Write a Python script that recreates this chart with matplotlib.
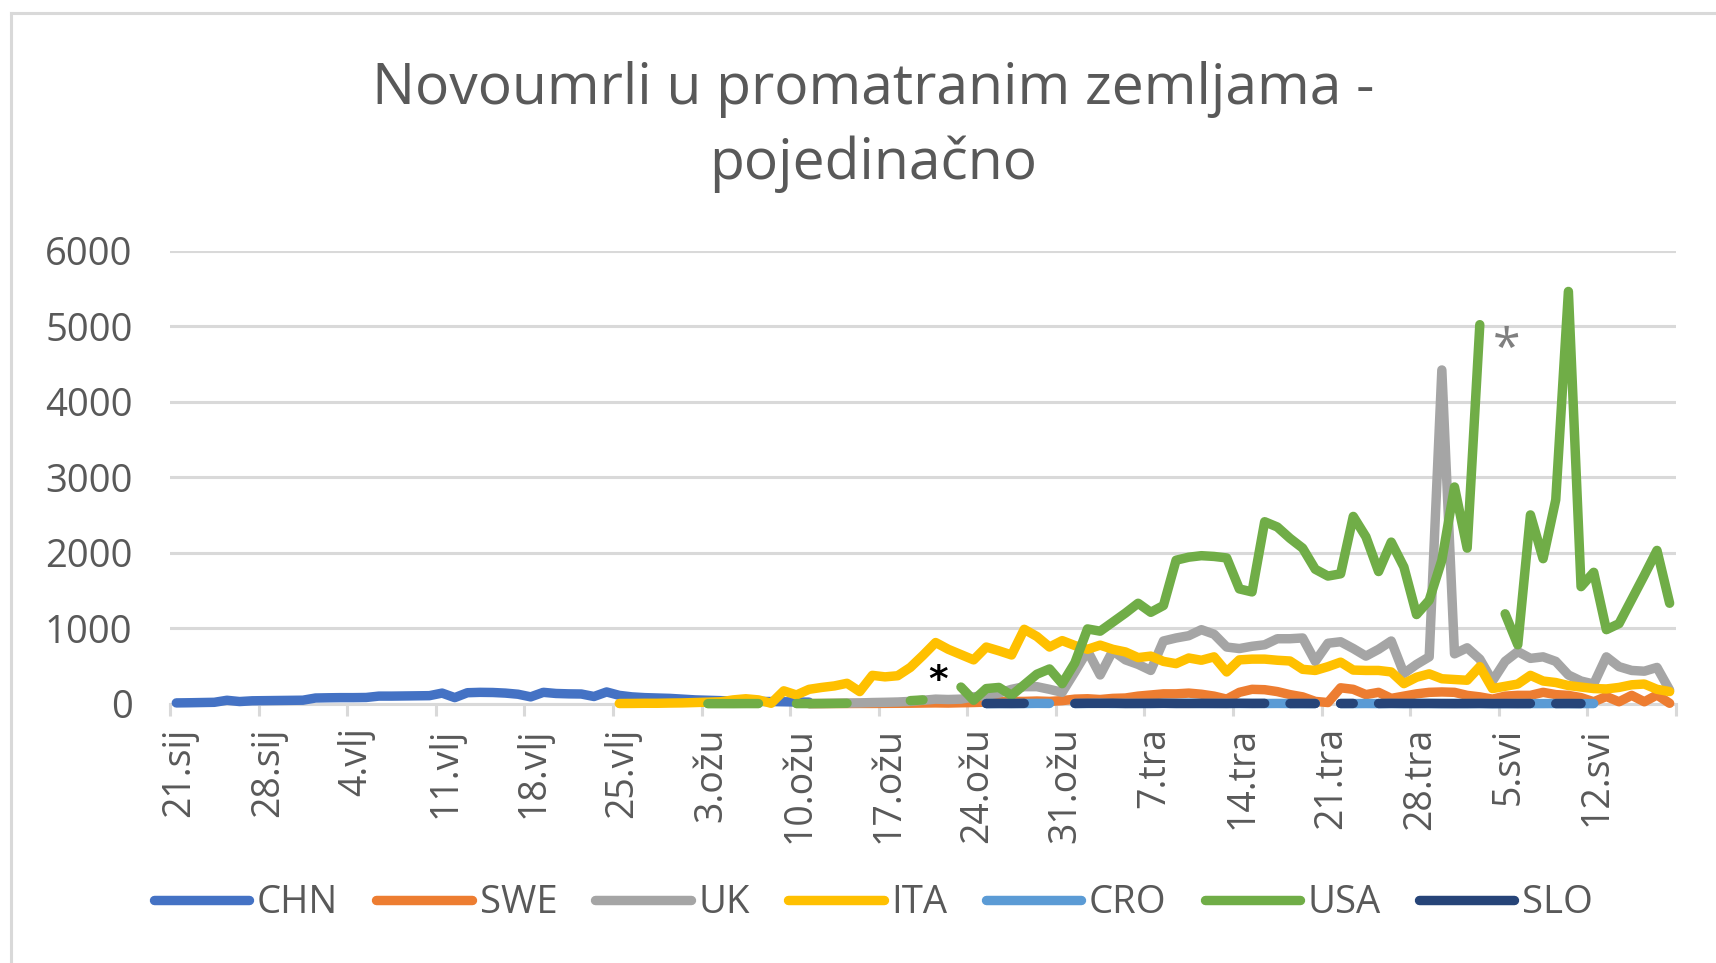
import matplotlib.pyplot as plt
from matplotlib.lines import Line2D
import numpy as np
import pandas as pd

plt.rcParams['font.family'] = ['Open Sans', 'DejaVu Sans']

TEXT = '#595959'
GRID = '#D9D9D9'

# one category per day, 21.1. - 18.5.2020.
days = pd.date_range('2020-01-21', '2020-05-18', freq='D')
tick_labels = ['21.sij', '28.sij', '4.vlj', '11.vlj', '18.vlj', '25.vlj', '3.ožu', '10.ožu', '17.ožu',
               '24.ožu', '31.ožu', '7.tra', '14.tra', '21.tra', '28.tra', '5.svi', '12.svi']

countries = ['CHN', 'SWE', 'UK', 'ITA', 'CRO', 'USA', 'SLO']
colors = ['#4472C4', '#ED7D31', '#A5A5A5', '#FFC000', '#5B9BD5', '#70AD47', '#264478']
first_day = ['2020-01-21', '2020-03-11', '2020-03-11', '2020-02-25', '2020-03-25', '2020-03-03', '2020-03-25']

chn = [10, 12, 15, 18, 45, 28, 38, 40, 42, 44, 46, 75, 78, 80, 80, 82, 100, 100, 102, 104, 106,
       140, 80, 145, 150, 148, 140, 125, 90, 150, 135, 130, 128, 95, 155, 110, 90, 80, 75, 70,
       60, 50, 45, 40, 35, 32, 30, 28, 25, 22, 20]
swe = [1, 1, 2, 2, 3, 3, 4, 5, 6, 8, 10, 8, 12, 15, 20, 25, 30, 30, 35, 30,
       40, 60, 65, 55, 70, 75, 100, 115, 130, 130, 140, 125, 100, 60, 150, 190, 185, 160, 120, 90,
       30, 15, 210, 190, 120, 150, 70, 100, 130, 150, 155, 150, 110, 90, 60, 100, 110, 110, 150, 120,
       110, 80, 25, 95, 25, 110, 25, 115, 5]
uk = [0, 2, 5, 8, 10, 15, 18, 22, 30, 45, 60, 55, 60, 90, 110, 140, 190, 225, 225, 190,
      150, 420, 700, 380, 700, 580, 520, 440, 830, 870, 900, 980, 920, 750, 730, 760, 780, 860, 860, 870,
      560, 800, 820, 730, 630, 720, 830, 400, 520, 620, 4420, 660, 740, 590, 300, 560, 690, 600, 620, 560,
      380, 300, 260, 620, 490, 440, 430, 480, 180]
ita = [2, 3, 5, 5, 8, 10, 15, 20, 25, 50, 65, 50, 5, 170, 115, 190, 215, 235, 270, 160,
       375, 355, 370, 480, 640, 810, 720, 650, 580, 750, 700, 645, 985, 890, 750, 835, 770, 720, 775, 720,
       685, 610, 630, 560, 530, 605, 575, 620, 420, 580, 590, 590, 575, 565, 455, 440, 490, 550, 445, 440,
       440, 420, 265, 350, 395, 330, 320, 310, 490, 200, 230, 260, 375, 300, 280, 240, 220, 200, 195, 215,
       250, 260, 190, 160]
cro = [1, 2, 3, 2, 4, 3, None, 2, 3, 5, 2, 4, 3, 2, 4, 3, 5, 2, 3, 4,
       2, 3, 2, 3, 2, 1, 2, None, 2, 1, 2, 1, 2, 1, 3, 2, 1, 2, 1, 2,
       1, 1, 2, 1, 1, 2, 1, 1, 1]
usa = [0, 0, 0, 1, 1, None, None, 1, 1, 2, 3, 5, None, None, None, None, 40, 50, None, None,
       220, 45, 200, 215, 110, 250, 390, 460, 265, 540, 990, 960, 1080, 1200, 1330, 1210, 1300, 1900, 1940, 1960,
       1950, 1930, 1520, 1480, 2410, 2340, 2190, 2060, 1780, 1690, 1720, 2480, 2210, 1750, 2140, 1810, 1180, 1370, 1900, 2870,
       2060, 5020, None, 1190, 780, 2500, 1920, 2700, 5460, 1550, 1740, 980, 1060, 1380, 1700, 2030, 1330]
slo = [2, 3, 2, 4, None, None, None, 3, 5, 4, 6, 2, 3, 4, 5, 3, 2, 4, 3, 2,
       5, 3, 4, None, 2, 3, 2, None, 2, 3, None, 2, 4, 3, 2, 3, 2, 1, 2, 3,
       1, 2, 1, 2, None, 1, 2, 1]

values = [chn, swe, uk, ita, cro, usa, slo]

fig = plt.figure(figsize=(17.16, 9.63), dpi=100)
ax = fig.add_axes([0.09907, 0.2693, 0.8776, 0.4704])

x = np.arange(len(days)) + 0.5
handles = []
for k, (name, col, d0, vals) in enumerate(zip(countries, colors, first_day, values)):
    s = pd.Series(vals, index=pd.date_range(d0, periods=len(vals), freq='D'), dtype=float)
    s = s.reindex(days)
    ln, = ax.plot(x, s.values, color=col, lw=6.8, solid_capstyle='round',
                  solid_joinstyle='round', label=name, zorder=3 + k, clip_on=False)
    handles.append(ln)

ax.set_xlim(0, len(days))
ax.set_ylim(0, 6000)
ax.set_yticks(np.arange(0, 6001, 1000))
ax.yaxis.grid(True, color=GRID, lw=2.2)
ax.set_axisbelow(True)
for sp in ['top', 'right', 'left']:
    ax.spines[sp].set_visible(False)
ax.spines['bottom'].set_color(GRID)
ax.spines['bottom'].set_linewidth(2.2)

ax.set_xticks(np.arange(0, len(days) + 1, 7))
ax.set_xticklabels([])
ax.tick_params(axis='x', which='major', length=8.6, width=2.2, color=GRID)
ax.set_xticks(np.arange(0, len(days), 7) + 0.75, minor=True)
ax.set_xticklabels(tick_labels, minor=True, rotation=90, fontsize=27, color=TEXT)
ax.tick_params(axis='x', which='minor', length=0, pad=17)
ax.tick_params(axis='y', length=0, pad=27, labelsize=27.5, labelcolor=TEXT)

# zvjezdice
ax.text(60.7, 170, '*', fontsize=27, fontweight='bold', color='black',
        ha='center', va='baseline', family='DejaVu Sans')
ax.text(105.6, 4500, '*', fontsize=36, color='#7F7F7F', ha='center', va='baseline')

fig.text(0.5086, 0.892, 'Novoumrli u promatranim zemljama -', fontsize=41, color=TEXT,
         ha='center', va='baseline')
fig.text(0.5086, 0.8146, 'pojedinačno', fontsize=41, color=TEXT, ha='center', va='baseline')

fig.legend(handles=handles, loc='center', bbox_to_anchor=(0.509, 0.0623), ncol=7,
           frameon=False, fontsize=27.5, handlelength=2.5, handletextpad=0.2,
           columnspacing=1.0, labelcolor=TEXT)

# chart border
fig.add_artist(Line2D([11 / 1716, 1.0], [1 - 13 / 963] * 2, color=GRID, lw=2.2))
fig.add_artist(Line2D([11 / 1716] * 2, [0.0, 1 - 13 / 963], color=GRID, lw=2.2))

fig.savefig('out.png', dpi=100, facecolor='white')
